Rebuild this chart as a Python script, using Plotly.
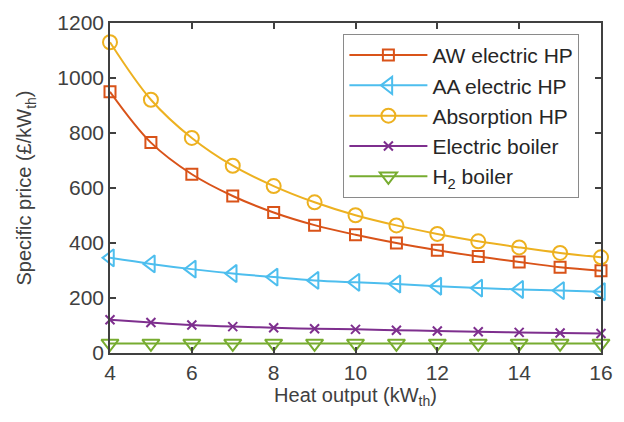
import plotly.graph_objects as go

heat_output = [4, 5, 6, 7, 8, 9, 10, 11, 12, 13, 14, 15, 16]
aw_electric_hp = [950, 765, 650, 571, 511, 465, 430, 400, 374, 351, 331, 312, 299]
aa_electric_hp = [346, 324, 305, 289, 276, 264, 257, 251, 243, 236, 231, 227, 223]
absorption_hp = [1130, 921, 782, 681, 607, 548, 501, 464, 433, 406, 384, 364, 348]
electric_boiler = [121, 111, 102, 96, 92, 88, 86, 83, 80, 77, 75, 73, 71]
h2_boiler = [35] * 13

x_ticks = [4, 6, 8, 10, 12, 14, 16]
y_ticks = [0, 200, 400, 600, 800, 1000, 1200]

FONT = "Liberation Sans, Arial, sans-serif"
TXT = "#404040"
AX = "#404040"

series = [
    ("AW electric HP", aw_electric_hp, "#D95319", "square-open", 11),
    ("AA electric HP", aa_electric_hp, "#4DBEEE", "triangle-left-open", 15),
    ("Absorption HP", absorption_hp, "#EDB120", "circle-open", 14),
    ("Electric boiler", electric_boiler, "#7E2F8E", "x-thin-open", 9),
    ("H<sub>2</sub> boiler", h2_boiler, "#77AC30", "triangle-down-open", 15),
]

fig = go.Figure()
for name, vals, color, sym, size in series:
    fig.add_trace(go.Scatter(
        x=heat_output, y=vals, name=name, mode="lines+markers",
        line=dict(color=color, width=2, shape="spline"),
        marker=dict(symbol=sym, size=size, color=color, line=dict(color=color, width=2)),
        cliponaxis=False,
    ))

axis_common = dict(
    showline=True, linecolor=AX, linewidth=1.5, mirror="ticks",
    ticks="inside", ticklen=6, tickcolor=AX, tickwidth=1.5,
    showgrid=False, zeroline=False,
    tickfont=dict(family=FONT, size=21, color=TXT),
)

fig.update_layout(
    width=624, height=422,
    margin=dict(l=110, r=11, t=17, b=69),
    plot_bgcolor="white", paper_bgcolor="white",
    font=dict(family=FONT, color=TXT),
    xaxis=dict(range=[4, 16], tickvals=x_ticks,
               title=dict(text="Heat output (kW<sub>th</sub>)", font=dict(family=FONT, size=20, color=TXT), standoff=4),
               **axis_common),
    yaxis=dict(range=[0, 1200], tickvals=y_ticks,
               title=dict(text="Specific price (£/kW<sub>th</sub>)", font=dict(family=FONT, size=20, color=TXT), standoff=20),
               **axis_common),
    legend=dict(x=0.956, y=0.967, xanchor="right", yanchor="top",
                bgcolor="white", bordercolor="#8a8a8a", borderwidth=1,
                font=dict(family=FONT, size=21, color="#262626"),
                itemwidth=78, tracegroupgap=0),
    showlegend=True,
)

fig.write_html("out.html")
